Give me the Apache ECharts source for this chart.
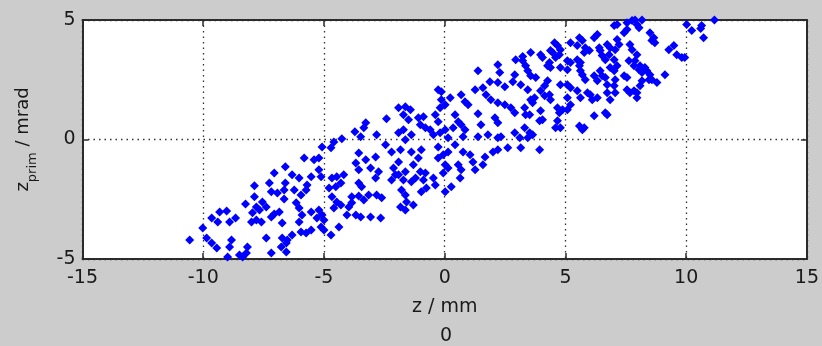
<!DOCTYPE html>
<html>
<head>
<meta charset="utf-8">
<script src="https://cdn.jsdelivr.net/npm/echarts@6/dist/echarts.min.js"></script>
<style>
  html, body { margin: 0; padding: 0; background: #cccccc; }
  #chart { width: 822px; height: 346px; }
</style>
</head>
<body>
<div id="chart"></div>
<script>
// Axis ranges and tick steps
const zRange = [-15, 15];
const zStep = 5;
const zPrimRange = [-5, 5];
const zPrimStep = 5;

// Longitudinal phase-space samples: [z (mm), z' (mrad)]
const samples = [
  [-6.60,-1.14],[-7.06,-1.40],[-6.60,-1.82],[-7.88,-1.94],[-7.26,-1.82],[-7.18,-2.19],
  [-6.93,-2.24],[-6.65,-2.49],[-7.88,-2.40],[-8.25,-2.70],[-7.80,-2.82],[-7.55,-2.61],
  [-7.67,-2.95],[-7.39,-2.82],[-7.06,-3.12],[-7.18,-3.24],[-7.96,-3.07],[-7.80,-3.37],
  [-7.59,-3.45],[-8.00,-3.45],[-9.32,-3.03],[-9.03,-2.99],[-9.65,-3.28],[-9.40,-3.45],
  [-8.91,-3.45],[-8.66,-3.28],[-6.73,-3.49],[-10.02,-3.70],[-9.86,-4.12],[-9.65,-4.33],
  [-9.44,-4.54],[-10.56,-4.21],[-8.83,-4.21],[-8.91,-4.50],[-7.39,-4.12],[-6.73,-4.12],
  [-6.56,-4.33],[-6.77,-4.50],[-6.56,-4.71],[-7.18,-4.75],[-8.17,-4.50],[-8.21,-4.75],
  [-8.50,-4.83],[-8.37,-4.92],[-8.99,-4.92],[-6.65,-2.11],[-6.85,-3.03],

  [-2.41,0.87],[-3.27,0.70],[-3.35,0.49],[-3.72,0.32],[-3.48,0.11],[-2.82,0.20],
  [-1.91,0.28],[-1.71,0.41],[-4.26,0.03],[-4.59,-0.10],[-4.71,-0.35],[-5.08,-0.31],
  [-2.45,-0.22],[-2.20,-0.52],[-3.56,-0.56],[-3.27,-0.85],[-2.86,-0.73],[-5.82,-0.77],
  [-5.41,-0.85],[-5.21,-0.77],[-3.68,-0.98],[-3.56,-1.27],[-3.07,-1.19],[-2.74,-1.35],
  [-2.86,-1.61],[-2.12,-1.19],[-2.04,-1.48],[-1.71,-1.69],[-2.20,-1.69],[-6.32,-1.48],
  [-6.03,-1.61],[-5.53,-1.56],[-5.70,-1.90],[-5.21,-1.27],[-5.12,-1.56],[-4.67,-1.61],
  [-4.47,-1.56],[-4.18,-1.48],[-4.79,-2.03],[-4.51,-1.98],[-4.30,-1.82],[-3.56,-1.82],
  [-3.44,-1.98],[-6.23,-2.11],[-5.95,-2.32],[-5.74,-2.11],[-4.67,-2.40],[-4.47,-2.61],
  [-4.30,-2.74],[-4.59,-2.87],[-3.85,-2.40],[-3.56,-2.36],[-3.35,-2.53],[-3.15,-2.32],
  [-2.82,-2.32],[-2.61,-2.44],[-3.85,-2.65],[-3.97,-2.82],[-6.15,-2.65],[-6.03,-2.87],
  [-5.91,-3.16],[-5.53,-3.03],[-6.03,-3.45],[-5.21,-2.95],[-5.08,-3.16],[-5.00,-3.37],
  [-5.29,-3.28],[-4.05,-3.16],[-3.68,-3.16],[-3.48,-3.24],[-3.07,-3.24],[-2.65,-3.28],
  [-4.38,-3.66],[-4.71,-4.00],[-5.53,-3.79],[-5.74,-3.91],[-5.95,-3.87],[-6.32,-4.00],
  [-6.52,-4.21],[-5.12,-3.66],[-5.00,-3.79],

  [1.38,2.88],[2.20,3.13],[2.28,2.80],[2.94,3.34],[3.23,3.47],[2.90,2.71],[2.82,2.42],
  [1.87,2.42],[2.20,2.38],[2.49,2.21],[-0.27,2.08],[-0.14,2.00],[0.23,1.75],[0.68,1.87],
  [0.84,1.58],[0.97,1.45],[1.26,2.08],[1.58,2.17],[1.71,1.87],[1.91,1.66],[2.20,1.54],
  [2.49,1.45],[2.74,1.33],[2.90,1.12],[-0.14,1.66],[0.02,1.45],[-0.19,1.33],[-1.91,1.33],
  [-1.63,1.37],[-1.42,1.25],[-1.71,1.04],[-1.50,0.83],[-1.09,0.91],[-0.88,0.95],
  [-1.01,0.62],[-0.80,0.49],[-0.39,1.04],[-0.27,0.74],[0.43,1.04],[0.56,0.74],[0.35,0.49],
  [1.38,1.08],[1.50,0.62],[2.08,0.91],[2.20,0.70],[-0.60,0.41],[-0.47,0.20],[-0.19,0.28],
  [0.02,0.41],[0.14,0.07],[0.68,0.62],[0.84,0.41],[0.76,0.11],[-1.38,0.20],[-1.63,-0.01],
  [1.38,0.11],[1.79,0.20],[2.20,0.07],[2.33,0.11],[2.90,0.28],[-1.38,-0.52],[-0.97,-0.43],
  [-1.09,-0.77],[-1.30,-1.06],[-1.83,-0.43],[-1.91,-0.94],[-0.27,-0.31],[-0.06,-0.64],
  [0.14,-0.52],[0.43,-0.22],[0.76,-0.52],[1.05,-0.64],[1.17,-0.94],[1.26,-1.27],
  [1.58,-1.06],[1.67,-0.73],[2.00,-0.52],[2.20,-0.43],[2.61,-0.35],[-0.27,-0.77],
  [0.02,-1.06],[0.14,-1.19],[-0.06,-1.40],[0.56,-1.06],[0.68,-1.27],[0.64,-1.61],
  [-1.01,-1.35],[-0.80,-1.40],[-0.88,-1.69],[-1.21,-1.61],[-1.38,-1.77],[-1.63,-1.35],
  [-1.91,-1.48],[-0.47,-1.61],[-0.39,-1.90],[-0.76,-2.03],[-0.97,-2.19],[0.02,-2.19],
  [0.27,-1.98],[-1.79,-2.11],[-1.63,-2.32],[-1.58,-2.61],[-1.83,-2.82],[-1.63,-2.95],
  [-1.30,-2.74],

  [7.02,4.77],[7.14,4.81],[7.55,4.89],[7.76,4.98],[7.88,5.00],[8.17,5.00],[7.96,4.81],
  [7.55,4.60],[7.43,4.47],[6.32,4.39],[6.19,4.26],[5.58,4.26],[5.70,4.14],[5.21,4.05],
  [5.49,3.93],[7.14,4.18],[7.22,3.97],[7.06,3.76],[6.85,3.84],[6.73,3.97],[7.67,3.97],
  [7.76,3.76],[4.55,4.05],[4.67,3.93],[4.79,3.76],[4.75,3.55],[4.59,3.43],[4.47,3.64],
  [3.97,3.55],[4.05,3.43],[4.38,3.72],[3.56,3.64],[3.23,3.30],[3.35,3.09],[3.44,2.88],
  [3.56,2.67],[5.82,3.84],[5.99,3.72],[5.78,3.64],[6.44,3.72],[6.52,3.51],[6.65,3.34],
  [6.81,3.55],[7.02,3.34],[6.40,3.84],[5.49,3.34],[5.62,3.22],[5.58,3.09],[4.79,3.01],
  [5.08,2.92],[5.08,3.30],[5.21,3.22],[4.26,3.09],[4.38,3.01],[4.34,3.22],[6.85,3.01],
  [7.14,3.09],[7.02,2.88],[7.63,3.30],[7.88,3.30],[7.84,3.09],[8.09,3.09],[8.29,3.01],
  [8.17,2.80],[5.62,2.88],[5.70,2.71],[5.82,2.50],[6.19,2.67],[6.32,2.46],[6.44,2.88],
  [6.52,2.67],[6.65,2.59],[6.73,2.29],[7.43,2.67],[7.55,2.59],[7.06,2.50],[7.02,2.25],
  [3.77,2.59],[4.26,2.46],[4.14,2.25],[3.15,2.29],[3.44,2.08],[5.08,2.29],[5.21,2.17],
  [4.79,2.29],[5.49,2.04],[5.62,1.75],[5.91,1.96],[6.03,1.87],[6.11,1.66],[6.32,1.75],
  [7.55,2.08],[7.67,1.96],[7.84,2.04],[7.96,1.75],[8.09,2.25],[6.73,1.96],[6.85,1.66],
  [7.06,1.96],[3.97,2.04],[4.14,1.83],[4.34,1.87],[4.38,1.66],[3.56,1.66],[3.72,1.75],
  [3.64,1.54],[3.31,1.33],[3.35,1.04],[3.52,1.04],[5.08,1.75],[5.21,1.45],[5.08,1.25],
  [4.88,1.25],[4.75,1.12],[4.67,1.33],[3.97,1.20],[4.05,0.83],[3.93,0.78],[6.65,1.12],
  [6.73,1.04],[6.19,0.99],[4.67,0.78],[4.79,0.49],[4.59,0.49],[5.58,0.57],[5.78,0.49],
  [5.70,0.41],[3.31,0.49],[3.52,0.28],[3.44,0.07],[3.11,0.07],[3.64,0.20],[3.15,-0.35],
  [3.93,-0.43],

  [8.05,4.68],[8.50,4.47],[8.66,4.26],[8.70,4.05],[8.58,4.14],[10.02,4.81],[10.23,4.56],
  [10.64,4.77],[10.72,4.26],[11.17,5.00],[10.60,4.64],[9.28,3.76],[9.49,3.93],[9.61,3.55],
  [9.82,3.43],[9.94,3.43],[7.96,3.55],[8.05,2.92],[8.25,2.92],[8.37,2.88],[8.50,2.71],
  [8.58,2.50],[8.46,2.50],[8.17,2.46],[8.79,2.38],[9.12,2.71],[7.96,1.96]
];

const fontFamily = 'DejaVu Sans';
const ink = '#1a1a1a';

const chart = echarts.init(document.getElementById('chart'), null, { renderer: 'canvas' });

const dotted = { color: '#333', width: 1.3, type: [1.5, 4] };
const frame = { show: true, onZero: false, lineStyle: { color: '#2b2b2b', width: 2 } };
const innerTick = { show: true, inside: true, length: 6, lineStyle: { color: '#2b2b2b', width: 1.5 } };

chart.setOption({
  animation: false,
  backgroundColor: '#cccccc',
  grid: {
    left: 82, right: 11, top: 20, bottom: 87,
    show: true, backgroundColor: '#ffffff', borderWidth: 0
  },
  xAxis: [
    {
      type: 'value', position: 'bottom',
      min: zRange[0], max: zRange[1], interval: zStep,
      axisLine: frame, axisTick: innerTick,
      axisLabel: { color: ink, fontFamily, fontSize: 19, margin: 10 },
      splitLine: { show: true, lineStyle: dotted },
      name: 'z / mm', nameLocation: 'middle', nameGap: 39,
      nameTextStyle: { color: ink, fontFamily, fontSize: 19 }
    },
    {
      type: 'value', position: 'top',
      min: zRange[0], max: zRange[1], interval: zStep,
      axisLine: frame, axisTick: innerTick,
      axisLabel: { show: false }, splitLine: { show: false }
    }
  ],
  yAxis: [
    {
      type: 'value', position: 'left',
      min: zPrimRange[0], max: zPrimRange[1], interval: zPrimStep,
      axisLine: frame, axisTick: innerTick,
      axisLabel: { color: ink, fontFamily, fontSize: 19, margin: 7 },
      splitLine: { show: true, lineStyle: dotted },
      name: '{a|z}{sub|prim}{a| / mrad}',
      nameLocation: 'middle', nameRotate: 90, nameGap: 48,
      nameTextStyle: {
        color: ink, fontFamily,
        rich: {
          a: { fontFamily, fontSize: 18, color: ink, lineHeight: 22, verticalAlign: 'middle' },
          sub: { fontFamily, fontSize: 13, color: ink, lineHeight: 22, verticalAlign: 'middle', padding: [18, 0, 0, 0] }
        }
      }
    },
    {
      type: 'value', position: 'right',
      min: zPrimRange[0], max: zPrimRange[1], interval: zPrimStep,
      axisLine: frame, axisTick: innerTick,
      axisLabel: { show: false }, splitLine: { show: false }
    }
  ],
  graphic: [
    {
      type: 'text', x: 446, y: 336,
      style: { text: '0', fill: ink, font: '19px "DejaVu Sans"', align: 'center', verticalAlign: 'middle' }
    }
  ],
  series: [
    {
      type: 'scatter',
      data: samples,
      symbol: 'diamond',
      symbolSize: 9,
      itemStyle: { color: '#0000ff', opacity: 1 },
      clip: false,
      z: 3
    }
  ]
});
</script>
</body>
</html>
